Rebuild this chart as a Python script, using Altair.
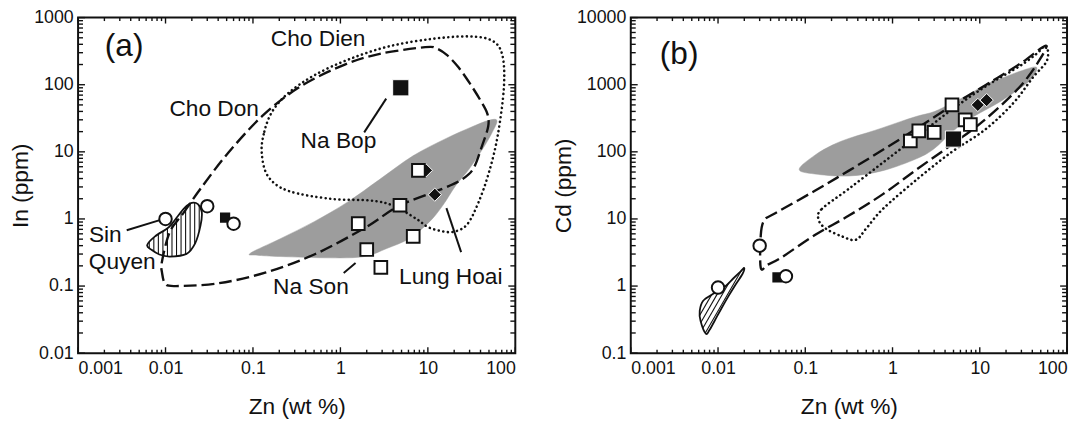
import numpy as np
import pandas as pd
import altair as alt

FONT = "Liberation Sans"
INK = "#111111"
GRAY = "#9d9d9d"

# ---------------- axis tick values ----------------
X_DECADES = [0.001, 0.01, 0.1, 1, 10, 100]
A_Y_DECADES = [0.01, 0.1, 1, 10, 100, 1000]
B_Y_DECADES = [0.1, 1, 10, 100, 1000, 10000]
MINOR_MULT = [2, 3, 4, 5, 6, 7, 8, 9]

# ---------------- panel (a): In vs Zn ----------------
# outlines: log10 coordinates
A_CHODON_LX = [-1.95, -1.80, -1.60, -1.28, -0.88, -0.45, 0.05, 0.45, 0.97, 1.10, 1.22, 1.35, 1.48,
               1.60, 1.68, 1.69, 1.62, 1.52, 1.39, 1.17, 0.68, 0.27, -0.30, -0.86, -1.40, -1.88,
               -2.00, -2.04, -2.04]
A_CHODON_LY = [-0.19, 0.08, 0.45, 0.99, 1.55, 1.98, 2.30, 2.46, 2.56, 2.54, 2.44, 2.26, 2.02,
               1.77, 1.57, 1.38, 1.09, 0.75, 0.59, 0.45, 0.20, -0.14, -0.53, -0.80, -0.96, -1.00,
               -0.97, -0.80, -0.63]
A_CHODIEN_LX = [-0.90, -0.87, -0.78, -0.60, -0.30, 0.10, 0.55, 1.03, 1.46, 1.73, 1.85, 1.87, 1.80,
                1.70, 1.58, 1.45, 1.30, 1.15, 1.00, 0.87, 0.60, 0.34, -0.11, -0.60, -0.83]
A_CHODIEN_LY = [0.99, 1.30, 1.60, 1.87, 2.14, 2.38, 2.57, 2.68, 2.72, 2.66, 2.45, 1.97, 1.25,
                0.70, 0.25, -0.08, -0.19, -0.18, -0.12, 0.00, 0.20, 0.275, 0.30, 0.42, 0.64]
A_GRAY_LX = [-1.03, -0.68, -0.30, 0.08, 0.45, 0.83, 1.21, 1.50, 1.70, 1.79, 1.72, 1.62, 1.47, 1.32,
             1.17, 1.02, 0.79, 0.53, 0.27, -0.11, -0.68, -0.95]
A_GRAY_LY = [-0.51, -0.29, -0.04, 0.25, 0.59, 0.94, 1.20, 1.37, 1.47, 1.46, 1.25, 1.03, 0.74, 0.50,
             0.20, -0.04, -0.29, -0.44, -0.56, -0.58, -0.56, -0.54]
A_SINQ_LX = [-2.21, -2.12, -1.96, -1.86, -1.78, -1.70, -1.63, -1.585, -1.60, -1.66, -1.76, -1.95,
             -2.07, -2.16]
A_SINQ_LY = [-0.39, -0.26, -0.12, 0.04, 0.17, 0.24, 0.22, 0.10, -0.10, -0.36, -0.52, -0.56, -0.53,
             -0.46]

A_CIRCLE_ZN = [0.010, 0.030, 0.060]
A_CIRCLE_IN = [1.0, 1.55, 0.85]
A_OPENSQ_ZN = [1.6, 2.0, 2.9, 4.8, 6.8, 7.8]
A_OPENSQ_IN = [0.85, 0.35, 0.19, 1.6, 0.55, 5.3]
A_NABOP_ZN = [4.9]
A_NABOP_IN = [90]
A_SMALLSQ_ZN = [0.048]
A_SMALLSQ_IN = [1.05]
A_DIAMOND_ZN = [9.5, 12.0]
A_DIAMOND_IN = [5.3, 2.3]

A_LABELS = ["Cho Dien", "Cho Don", "Na Bop", "Na Son", "Lung Hoai", "Sin", "Quyen", "(a)"]
A_LABEL_ZN = [0.556, 0.036, 0.95, 0.46, 18.3, 0.00205, 0.0032, 0.00336]
A_LABEL_IN = [475, 44, 14.3, 0.097, 0.135, 0.575, 0.225, 380]
A_LABEL_SIZE = [23, 23, 23, 23, 23, 23, 23, 32]

A_LEAD_ZN = [1.87, 1.09, 16.3, 0.0036]
A_LEAD_IN = [19.5, 0.157, 1.45, 0.68]
A_LEAD_ZN2 = [3.34, 1.49, 24.0, 0.0086]
A_LEAD_IN2 = [62, 0.22, 0.32, 0.96]

# ---------------- panel (b): Cd vs Zn ----------------
B_CHODON_LX = [-1.51, -1.51, -1.47, -1.35, -0.89, -0.50, -0.11, 0.28, 0.67, 1.06, 1.46, 1.75, 1.69,
               1.46, 1.06, 0.67, 0.28, -0.11, -0.50, -0.89, -1.28, -1.43]
B_CHODON_LY = [0.27, 0.76, 0.98, 1.08, 1.42, 1.72, 2.03, 2.35, 2.68, 2.99, 3.31, 3.58, 3.38, 2.97,
               2.48, 2.10, 1.74, 1.37, 1.05, 0.76, 0.42, 0.32]
B_CHODIEN_LX = [-0.85, -0.81, -0.50, -0.11, 0.28, 0.67, 1.06, 1.46, 1.65, 1.76, 1.77, 1.61, 1.38,
                1.06, 0.67, 0.28, -0.11, -0.30, -0.42, -0.58, -0.77]
B_CHODIEN_LY = [1.00, 1.15, 1.45, 1.84, 2.23, 2.62, 2.97, 3.28, 3.46, 3.58, 3.36, 3.11, 2.72, 2.33,
                1.99, 1.59, 1.15, 0.86, 0.69, 0.74, 0.86]
B_GRAY_LX = [-1.07, -0.89, -0.69, -0.50, -0.30, -0.11, 0.09, 0.28, 0.48, 0.67, 0.87, 1.06, 1.26,
             1.46, 1.65, 1.57, 1.26, 0.87, 0.67, 0.48, 0.28, -0.11, -0.50, -0.89]
B_GRAY_LY = [1.74, 1.95, 2.10, 2.20, 2.28, 2.36, 2.45, 2.53, 2.60, 2.72, 2.85, 3.00, 3.10, 3.20,
             3.26, 3.06, 2.77, 2.48, 2.28, 2.05, 1.90, 1.72, 1.64, 1.67]
B_SINQ_LX = [-2.14, -2.20, -2.21, -2.17, -2.06, -1.94, -1.82, -1.74, -1.70, -1.72, -1.80, -1.88,
             -1.96, -2.04, -2.10]
B_SINQ_LY = [-0.71, -0.52, -0.37, -0.22, -0.12, -0.03, 0.12, 0.22, 0.27, 0.18, 0.02, -0.15, -0.33,
             -0.52, -0.66]

B_CIRCLE_ZN = [0.010, 0.030, 0.060]
B_CIRCLE_CD = [0.95, 4.0, 1.4]
B_OPENSQ_ZN = [1.6, 2.0, 3.0, 4.8, 6.8, 7.8]
B_OPENSQ_CD = [145, 205, 195, 500, 300, 255]
B_NABOP_ZN = [5.0]
B_NABOP_CD = [155]
B_SMALLSQ_ZN = [0.048]
B_SMALLSQ_CD = [1.35]
B_DIAMOND_ZN = [9.5, 12.0]
B_DIAMOND_CD = [500, 590]

B_LABELS = ["(b)"]
B_LABEL_ZN = [0.00358]
B_LABEL_CD = [2900]
B_LABEL_SIZE = [32]

W_A, W_B, H = 443, 442, 340


def spline_closed(px, py, n=16):
    P = np.column_stack([px, py])
    m = len(P)
    t = np.linspace(0, 1, n, endpoint=False)[:, None]
    out = []
    for i in range(m):
        p0, p1, p2, p3 = P[(i - 1) % m], P[i], P[(i + 1) % m], P[(i + 2) % m]
        c1 = p1 + (p2 - p0) / 6.0
        c2 = p2 - (p3 - p1) / 6.0
        out.append((1 - t) ** 3 * p1 + 3 * (1 - t) ** 2 * t * c1 + 3 * (1 - t) * t ** 2 * c2 + t ** 3 * p2)
    return np.vstack(out)


def hatch_segments(lx, ly, sx, sy, angle, spacing):
    poly = spline_closed(np.array(lx) * sx, np.array(ly) * sy)
    th = np.radians(angle)
    d = np.array([np.cos(th), np.sin(th)])
    nv = np.array([-np.sin(th), np.cos(th)])
    s = poly @ nv
    t = poly @ d
    s2 = np.roll(s, -1)
    t2 = np.roll(t, -1)
    rows = []
    c = s.min() + spacing * 0.6
    while c < s.max():
        cross = (s - c) * (s2 - c) < 0
        f = (c - s[cross]) / (s2[cross] - s[cross])
        tt = np.sort(t[cross] + f * (t2[cross] - t[cross]))
        for k in range(0, len(tt) - 1, 2):
            a = c * nv + tt[k] * d
            b = c * nv + tt[k + 1] * d
            rows.append({"x": 10 ** (a[0] / sx), "y": 10 ** (a[1] / sy),
                         "x2": 10 ** (b[0] / sx), "y2": 10 ** (b[1] / sy)})
        c += spacing
    return pd.DataFrame(rows)


def loop_df(lx, ly):
    return pd.DataFrame({"x": 10 ** np.array(lx), "y": 10 ** np.array(ly), "i": np.arange(len(lx))})


def build_panel(W, ydomain, ydecades, ytitle, gray, sinq, hatch_angle, dashed, dotted,
                circles, opensq, nabop, smallsq, diamonds, labels, leaders, title_pad):
    xs = alt.Scale(type="log", domain=[0.001, 100], nice=False)
    ys = alt.Scale(type="log", domain=ydomain, nice=False)
    xax = alt.Axis(values=X_DECADES, format="~g", title="Zn (wt %)", labelFlush=True,
                   ticks=False, domain=False, grid=False, labelPadding=7, titlePadding=18)
    yax = alt.Axis(values=ydecades, format="~g", title=ytitle, ticks=False, domain=False,
                   grid=False, labelPadding=5, titlePadding=title_pad)
    X = alt.X("x:Q", scale=xs, axis=xax)
    Y = alt.Y("y:Q", scale=ys, axis=yax)
    sx, sy = W / 5.0, H / 5.0
    layers = []

    layers.append(alt.Chart(loop_df(*gray)).mark_line(
        interpolate="cardinal-closed", fill=GRAY, stroke=GRAY, strokeWidth=0.5
    ).encode(X, Y, order="i:Q"))

    hdf = hatch_segments(sinq[0], sinq[1], sx, sy, hatch_angle, 4.6)
    layers.append(alt.Chart(hdf).mark_rule(color=INK, strokeWidth=1.1).encode(
        X, Y, x2="x2:Q", y2="y2:Q"))
    layers.append(alt.Chart(loop_df(*sinq)).mark_line(
        interpolate="cardinal-closed", color=INK, strokeWidth=1.8).encode(X, Y, order="i:Q"))

    layers.append(alt.Chart(loop_df(*dotted)).mark_line(
        interpolate="cardinal-closed", color=INK, strokeWidth=2.6, strokeDash=[0.1, 4.6],
        strokeCap="round").encode(X, Y, order="i:Q"))
    layers.append(alt.Chart(loop_df(*dashed)).mark_line(
        interpolate="cardinal-closed", color=INK, strokeWidth=2.4, strokeDash=[13, 5]
    ).encode(X, Y, order="i:Q"))

    if leaders is not None:
        ldf = pd.DataFrame({"x": leaders[0], "y": leaders[1], "x2": leaders[2], "y2": leaders[3]})
        layers.append(alt.Chart(ldf).mark_rule(color=INK, strokeWidth=2).encode(
            X, Y, x2="x2:Q", y2="y2:Q"))

    def pts(xy, **kw):
        df = pd.DataFrame({"x": xy[0], "y": xy[1]})
        return alt.Chart(df).mark_point(opacity=1, **kw).encode(X, Y)

    layers.append(pts(smallsq, shape="square", filled=True, fill=INK, stroke=INK, size=70))
    layers.append(pts(diamonds, shape="diamond", filled=True, fill=INK, stroke="white",
                      strokeWidth=1, size=180))
    layers.append(pts(circles, shape="circle", filled=True, fill="white", stroke=INK,
                      strokeWidth=2, size=160))
    layers.append(pts(opensq, shape="square", filled=True, fill="white", stroke=INK,
                      strokeWidth=2, size=165))
    layers.append(pts(nabop, shape="square", filled=True, fill=INK, stroke="white",
                      strokeWidth=1, size=270))

    tdf = pd.DataFrame({"x": labels[1], "y": labels[2], "t": labels[0], "fs": labels[3]})
    layers.append(alt.Chart(tdf).mark_text(font=FONT, color=INK, align="center",
                                           baseline="middle").encode(
        X, Y, text="t:N", size=alt.Size("fs:Q", scale=None, legend=None)))

    # inward ticks on all four sides
    xmaj = pd.DataFrame({"x": X_DECADES})
    xmin = pd.DataFrame({"x": [m * d for d in X_DECADES[:-1] for m in MINOR_MULT]})
    ymaj = pd.DataFrame({"y": ydecades})
    ymin = pd.DataFrame({"y": [m * d for d in ydecades[:-1] for m in MINOR_MULT]})
    for df, ln in ((xmaj, 6), (xmin, 3.5)):
        layers.append(alt.Chart(df).mark_rule(color=INK, strokeWidth=1.4).encode(
            X, y=alt.value(H), y2=alt.value(H - ln)))
        layers.append(alt.Chart(df).mark_rule(color=INK, strokeWidth=1.4).encode(
            X, y=alt.value(0), y2=alt.value(ln)))
    for df, ln in ((ymaj, 7), (ymin, 5)):
        layers.append(alt.Chart(df).mark_rule(color=INK, strokeWidth=1.4).encode(
            Y, x=alt.value(0), x2=alt.value(ln)))
        layers.append(alt.Chart(df).mark_rule(color=INK, strokeWidth=1.4).encode(
            Y, x=alt.value(W), x2=alt.value(W - ln)))

    return alt.layer(*layers).properties(width=W, height=H)


panel_a = build_panel(
    W_A, [0.01, 1000], A_Y_DECADES, "In (ppm)",
    (A_GRAY_LX, A_GRAY_LY), (A_SINQ_LX, A_SINQ_LY), 90,
    (A_CHODON_LX, A_CHODON_LY), (A_CHODIEN_LX, A_CHODIEN_LY),
    (A_CIRCLE_ZN, A_CIRCLE_IN), (A_OPENSQ_ZN, A_OPENSQ_IN), (A_NABOP_ZN, A_NABOP_IN),
    (A_SMALLSQ_ZN, A_SMALLSQ_IN), (A_DIAMOND_ZN, A_DIAMOND_IN),
    (A_LABELS, A_LABEL_ZN, A_LABEL_IN, A_LABEL_SIZE),
    (A_LEAD_ZN, A_LEAD_IN, A_LEAD_ZN2, A_LEAD_IN2), 1)

panel_b = build_panel(
    W_B, [0.1, 10000], B_Y_DECADES, "Cd (ppm)",
    (B_GRAY_LX, B_GRAY_LY), (B_SINQ_LX, B_SINQ_LY), 60,
    (B_CHODON_LX, B_CHODON_LY), (B_CHODIEN_LX, B_CHODIEN_LY),
    (B_CIRCLE_ZN, B_CIRCLE_CD), (B_OPENSQ_ZN, B_OPENSQ_CD), (B_NABOP_ZN, B_NABOP_CD),
    (B_SMALLSQ_ZN, B_SMALLSQ_CD), (B_DIAMOND_ZN, B_DIAMOND_CD),
    (B_LABELS, B_LABEL_ZN, B_LABEL_CD, B_LABEL_SIZE), None, 1)

chart = alt.hconcat(panel_a, panel_b, spacing=34).properties(
    padding={"left": 0, "top": -3, "right": 0, "bottom": 0}
).configure_view(stroke=INK, strokeWidth=2).configure_axis(
    labelFont=FONT, titleFont=FONT, labelFontSize=18, titleFontSize=23,
    titleFontWeight="normal", labelColor=INK, titleColor=INK
).configure_concat(spacing=34)

chart.save("out.html", embed_options={"renderer": "svg", "actions": False})
